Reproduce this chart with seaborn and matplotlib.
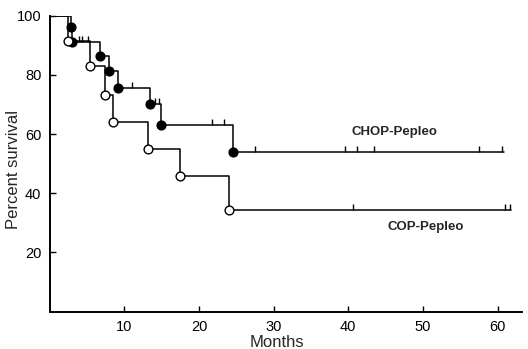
import matplotlib.pyplot as plt
import seaborn as sns
import pandas as pd

# Kaplan-Meier style survival curves
chop_months = [0, 2.8, 3.0, 6.7, 7.9, 9.1, 13.5, 14.9, 24.5]
chop_surv = [100, 96.2, 91.0, 86.3, 81.4, 75.7, 70.2, 63.0, 53.9]
chop_end = 60.8
chop_cens_months = [3.9, 4.4, 5.1, 11.0, 14.1, 14.7, 21.8, 23.3, 27.5, 39.5, 41.2, 43.5, 57.5, 60.6]
chop_cens_surv = [91.0, 91.0, 91.0, 75.7, 70.2, 70.2, 63.0, 63.0, 53.9, 53.9, 53.9, 53.9, 53.9, 53.9]

cop_months = [0, 2.4, 5.4, 7.4, 8.5, 13.2, 17.4, 24.0]
cop_surv = [100, 91.3, 82.9, 73.3, 64.0, 55.0, 45.7, 34.5]
cop_end = 61.8
cop_cens_months = [40.6, 61.0, 61.7]
cop_cens_surv = [34.5, 34.5, 34.5]

xticks = [10, 20, 30, 40, 50, 60]
yticks = [20, 40, 60, 80, 100]

sns.set_style('ticks')
plt.rcParams['font.family'] = ['Liberation Sans', 'DejaVu Sans']

fig = plt.figure(figsize=(5.28, 3.49), dpi=100)
ax = fig.add_axes([0.094, 0.107, 0.895, 0.848])

chop = pd.DataFrame({'months': chop_months + [chop_end], 'surv': chop_surv + [chop_surv[-1]]})
cop = pd.DataFrame({'months': cop_months + [cop_end], 'surv': cop_surv + [cop_surv[-1]]})

sns.lineplot(data=chop, x='months', y='surv', drawstyle='steps-post', color='black',
             linewidth=1.1, estimator=None, sort=False, ax=ax)
sns.lineplot(data=cop, x='months', y='surv', drawstyle='steps-post', color='black',
             linewidth=1.1, estimator=None, sort=False, ax=ax)

# event dots (skip the start at 100)
sns.scatterplot(x=chop_months[1:], y=chop_surv[1:], color='black', edgecolor='black',
                s=40, linewidth=1, zorder=3, ax=ax)
sns.scatterplot(x=cop_months[1:], y=cop_surv[1:], color='white', edgecolor='black',
                s=40, linewidth=1, zorder=3, ax=ax)

# censor ticks
ax.plot(chop_cens_months, chop_cens_surv, linestyle='none', marker=2, markersize=4,
        markeredgewidth=1, color='black')
ax.plot(cop_cens_months, cop_cens_surv, linestyle='none', marker=2, markersize=4,
        markeredgewidth=1, color='black')

ax.text(46.2, 60.7, 'CHOP-Pepleo', ha='center', va='center', fontsize=9.5, fontweight='bold')
ax.text(50.4, 28.6, 'COP-Pepleo', ha='center', va='center', fontsize=9.5, fontweight='bold')

ax.set_xlim(0, 63.3)
ax.set_ylim(0, 100)
ax.set_xticks(xticks)
ax.set_yticks(yticks)
ax.tick_params(direction='in', length=4, width=1, labelsize=10.5, colors='black', pad=6)
ax.set_xlabel('Months', fontsize=12)
ax.set_ylabel('Percent survival', fontsize=12)
ax.xaxis.set_label_coords(0.481, -0.08)
ax.yaxis.set_label_coords(-0.06, 0.479)
for side in ['top', 'right']:
    ax.spines[side].set_visible(False)
for side in ['left', 'bottom']:
    ax.spines[side].set_linewidth(1.4)
    ax.spines[side].set_color('black')

fig.savefig('out.png', dpi=100)
